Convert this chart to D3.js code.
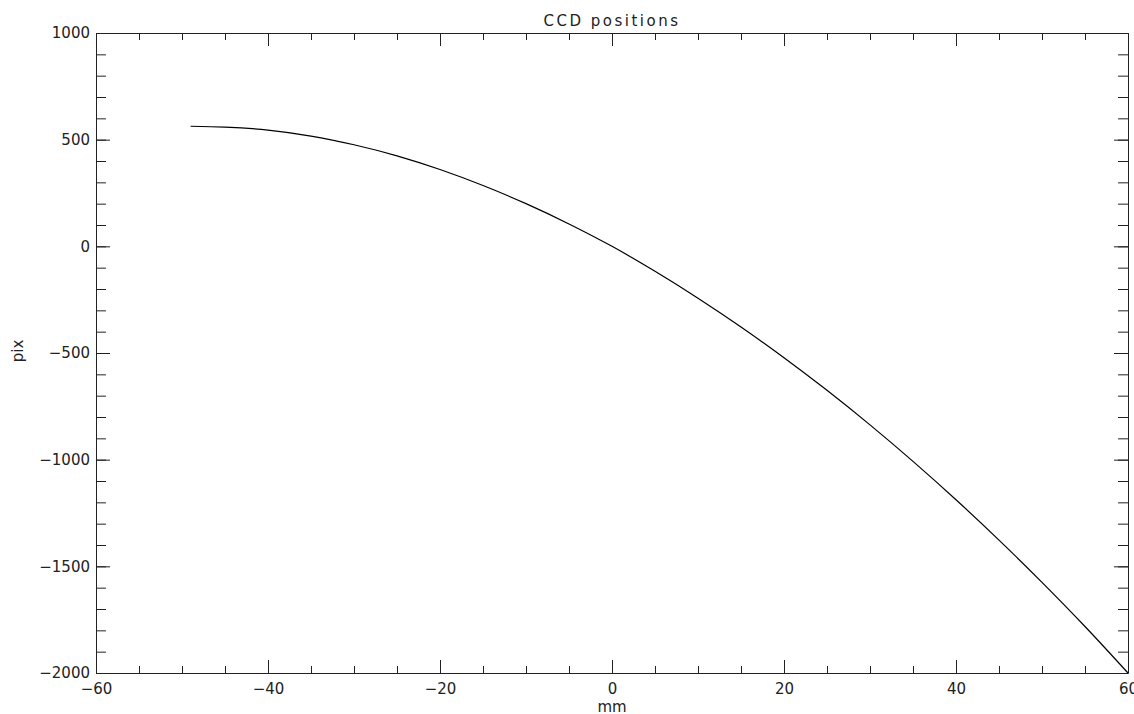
<!DOCTYPE html>
<html>
<head>
<meta charset="utf-8">
<script src="https://cdn.jsdelivr.net/npm/d3@7"></script>
<style>
  html, body { margin: 0; padding: 0; background: #fff; }
  text { font-family: "DejaVu Sans", sans-serif; fill: #222; }
</style>
</head>
<body>
<div id="graph"></div>
<script>
// CCD positions: pixel offset vs. mm, IDL-style box plot

const ML = 96   // left margin
const MR = 6    // right margin
const MT = 33   // top margin
const MB = 41   // bottom margin
const W = 1134 - ML - MR
const H = 714 - MT - MB

// values
const mm  = [-49, -45, -40, -35, -30, -25, -20, -15, -10, -5, 0,
             5, 10, 15, 20, 25, 30, 35, 40, 45, 50, 55, 60]
const pix = [563, 559, 545, 517, 476, 424, 360, 285, 200, 105, 0,
             -117, -243, -378, -522, -675, -837, -1008, -1188, -1377, -1575, -1782, -2000]

const xTicks = [-60, -40, -20, 0, 20, 40, 60]
const yTicks = [-2000, -1500, -1000, -500, 0, 500, 1000]
const xMinor = d3.range(-60, 61, 5)
const yMinor = d3.range(-2000, 1001, 100)

const xsc = d3.scaleLinear([-60, 60], [0, W])
const ysc = d3.scaleLinear([-2000, 1000], [H, 0])

const svg = d3.select('#graph').append('svg')
  .attr('width', 1134).attr('height', 714)
const g = svg.append('g').attr('transform', tr(ML, MT))

function tr(x, y) { return `translate(${x},${y})` }

// box axes, ticks pointing inward on all four sides
const sides = [
  { axis: d3.axisBottom, sc: xsc, t: tr(0, H), mi: xMinor, ma: xTicks, ml: 7,  Ml: 13, pad: 10 },
  { axis: d3.axisTop,    sc: xsc, t: tr(0, 0), mi: xMinor, ma: xTicks, ml: 7,  Ml: 13, pad: null },
  { axis: d3.axisLeft,   sc: ysc, t: tr(0, 0), mi: yMinor, ma: yTicks, ml: 10, Ml: 14, pad: 6 },
  { axis: d3.axisRight,  sc: ysc, t: tr(W, 0), mi: yMinor, ma: yTicks, ml: 10, Ml: 14, pad: null },
]

sides.forEach(s => {
  g.append('g').attr('transform', s.t)
    .call(s.axis(s.sc).tickValues(s.mi).tickSize(-s.ml).tickFormat(''))
    .call(a => a.select('.domain').remove())

  const major = s.axis(s.sc).tickValues(s.ma).tickSizeInner(-s.Ml).tickSizeOuter(0)
    .tickPadding(s.pad || 0)
    .tickFormat(s.pad === null ? '' : d3.format('d'))
  const ga = g.append('g').attr('transform', s.t).call(major)
  ga.selectAll('text').style('font-size', '15px')
    .style('font-family', '"DejaVu Sans", sans-serif').attr('fill', '#222')
  ga.select('.domain').attr('stroke', '#222')
})

g.selectAll('.tick line').attr('stroke', '#222')

// the curve
g.append('path')
  .datum(mm.map((d, i) => [d, pix[i]]))
  .attr('fill', 'none')
  .attr('stroke', '#000')
  .attr('stroke-width', 1.2)
  .attr('d', d3.line().x(d => xsc(d[0])).y(d => ysc(d[1])).curve(d3.curveMonotoneX))

// titles
svg.append('text').attr('x', ML + W / 2).attr('y', 26)
  .attr('text-anchor', 'middle').style('font-size', '15px').style('letter-spacing', '2.5px')
  .text('CCD positions')
svg.append('text').attr('x', ML + W / 2).attr('y', 712)
  .attr('text-anchor', 'middle').style('font-size', '15px')
  .text('mm')
svg.append('text').attr('transform', 'translate(23,351) rotate(-90)')
  .attr('text-anchor', 'middle').style('font-size', '15px')
  .text('pix')
</script>
</body>
</html>
